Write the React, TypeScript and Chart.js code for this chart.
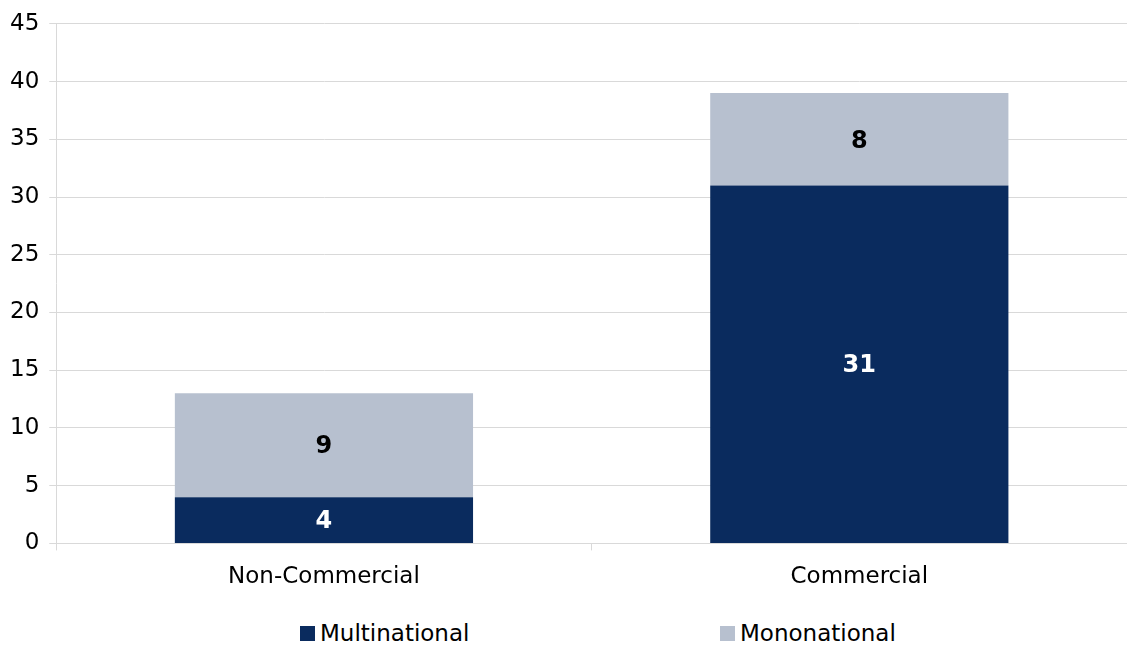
import { useEffect, useRef } from "react"
import { Chart, registerables } from "chart.js"

Chart.register(...registerables)

const categories = ["Non-Commercial", "Commercial"]
const multinational = [4, 31]
const mononational = [9, 8]
const seriesNames = ["Multinational", "Mononational"]

const NAVY = "#0a2b5e"
const LIGHT = "#b7c0cf"
const GRID = "#d9d9d9"
const FONT = "Verdana, 'DejaVu Sans', sans-serif"

// writes the value in the middle of each bar segment
const segmentLabels = {
  id: "segmentLabels",
  afterDatasetsDraw(chart: Chart) {
    const ctx = chart.ctx
    ctx.save()
    ctx.font = `bold 24px ${FONT}`
    ctx.textAlign = "center"
    ctx.textBaseline = "middle"
    chart.data.datasets.forEach((ds, i) => {
      const meta = chart.getDatasetMeta(i)
      meta.data.forEach((bar: any, j) => {
        const v = ds.data[j] as number
        const mid = (bar.y + bar.base) / 2
        ctx.fillStyle = i === 0 ? "#ffffff" : "#000000"
        ctx.fillText(String(v), bar.x, mid + 2)
      })
    })
    ctx.restore()
  },
}

export default function App() {
  const chartRef = useRef<HTMLCanvasElement>(null)
  const chartInstance = useRef<Chart | null>(null)

  useEffect(() => {
    if (!chartRef.current) return
    document.body.style.margin = "0"

    if (chartInstance.current) {
      chartInstance.current.destroy()
    }

    chartInstance.current = new Chart(chartRef.current, {
      type: "bar",
      data: {
        labels: categories,
        datasets: [
          {
            label: seriesNames[0],
            data: multinational,
            backgroundColor: NAVY,
            barPercentage: 0.557,
            categoryPercentage: 1,
          },
          {
            label: seriesNames[1],
            data: mononational,
            backgroundColor: LIGHT,
            barPercentage: 0.557,
            categoryPercentage: 1,
          },
        ],
      },
      options: {
        animation: false,
        responsive: true,
        maintainAspectRatio: false,
        layout: { padding: { top: 5, right: 0, bottom: 3, left: 0 } },
        plugins: {
          legend: { display: false },
          tooltip: { enabled: false },
        },
        scales: {
          x: {
            stacked: true,
            offset: true,
            grid: {
              display: true,
              offset: true,
              drawOnChartArea: false,
              drawTicks: true,
              tickLength: 7,
              color: GRID,
            },
            border: { color: GRID },
            ticks: {
              color: "#000",
              padding: 13,
              font: { family: FONT, size: 23 },
            },
          },
          y: {
            stacked: true,
            min: 0,
            max: 45,
            grid: { color: GRID, tickLength: 7 },
            border: { color: GRID },
            ticks: {
              stepSize: 5,
              color: "#000",
              padding: 10,
              font: { family: FONT, size: 23 },
            },
          },
        },
      },
      plugins: [segmentLabels],
    })

    return () => {
      if (chartInstance.current) {
        chartInstance.current.destroy()
        chartInstance.current = null
      }
    }
  }, [])

  const legendItems = [
    { name: seriesNames[0], color: NAVY, left: 300 },
    { name: seriesNames[1], color: LIGHT, left: 720 },
  ]

  return (
    <div style={{ position: "relative", width: 1127, height: 646, fontFamily: FONT }}>
      <div style={{ position: "relative", width: 1127, height: 607 }}>
        <canvas ref={chartRef} />
      </div>
      {legendItems.map((it) => (
        <div
          key={it.name}
          style={{
            position: "absolute",
            left: it.left,
            top: 618,
            display: "flex",
            alignItems: "center",
            fontSize: 23,
            color: "#000",
            lineHeight: "30px",
          }}
        >
          <span style={{ display: "inline-block", width: 15, height: 15, background: it.color, marginRight: 5 }} />
          {it.name}
        </div>
      ))}
    </div>
  )
}
